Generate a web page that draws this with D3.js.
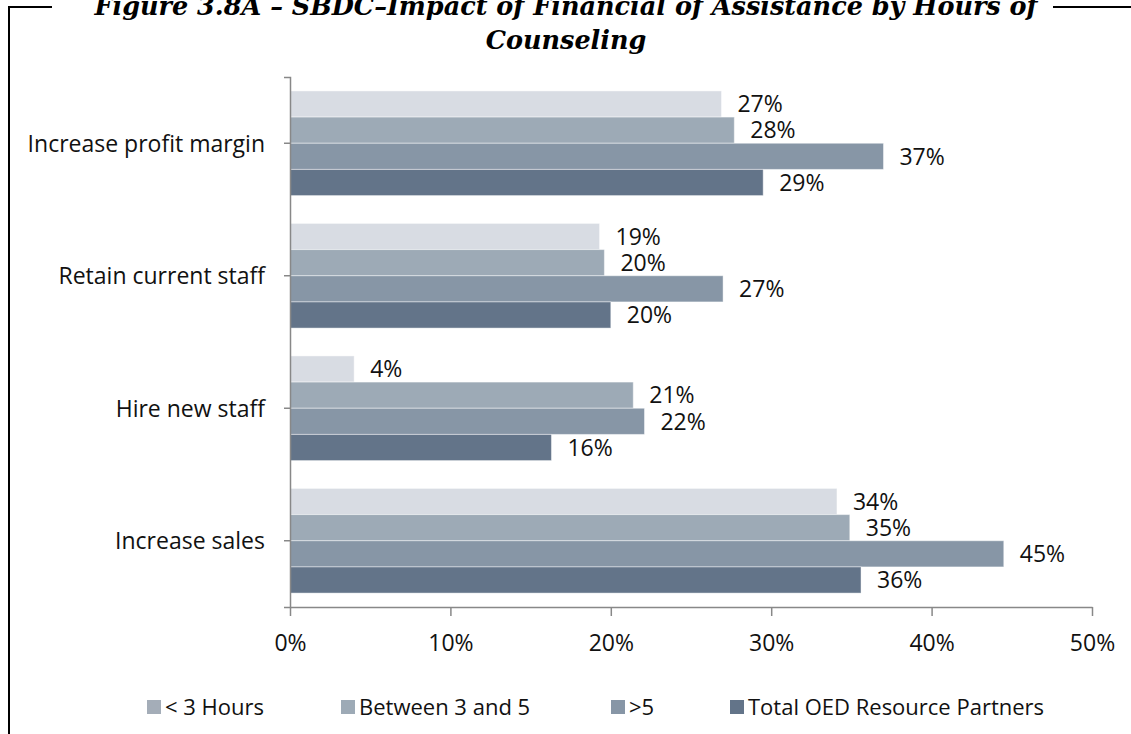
<!DOCTYPE html>
<html>
<head>
<meta charset="utf-8">
<script src="https://cdn.jsdelivr.net/npm/d3@7"></script>
<style>
  body { margin: 0; background: #ffffff; }
  svg { display: block; }
</style>
</head>
<body>
<div id="chart"></div>
<script>
// Data
var categories = ["Increase profit margin", "Retain current staff", "Hire new staff", "Increase sales"];
var seriesNames = ["< 3 Hours", "Between 3 and 5", ">5", "Total OED Resource Partners"];
var lessThan3 = [0.269, 0.193, 0.040, 0.341];
var between3and5 = [0.277, 0.196, 0.214, 0.349];
var moreThan5 = [0.370, 0.270, 0.221, 0.445];
var totalOED = [0.295, 0.200, 0.163, 0.356];
var valueLabels = [
  ["27%", "19%", "4%", "34%"],
  ["28%", "20%", "21%", "35%"],
  ["37%", "27%", "22%", "45%"],
  ["29%", "20%", "16%", "36%"]
];
var xTicks = [0, 0.1, 0.2, 0.3, 0.4, 0.5];
var titleLines = ["Figure 3.8A – SBDC–Impact of Financial of Assistance by Hours of", "Counseling"];

var seriesValues = [lessThan3, between3and5, moreThan5, totalOED];
var barColors = ["#d8dce3", "#9daab6", "#8796a6", "#637489"];
var legendColors = ["#a4adb8", "#9daab6", "#8796a6", "#637489"];

var width = 1131, height = 734;
var font = "'Open Sans', sans-serif";

var svg = d3.select("#chart").append("svg")
  .attr("width", width)
  .attr("height", height)
  .style("background", "#ffffff");

// Ramme (kun venstre side og toppen)
var frame = svg.append("g").attr("stroke", "#000").attr("stroke-width", 2).attr("fill", "none");
frame.append("line").attr("x1", 9).attr("y1", 7).attr("x2", 52).attr("y2", 7);
frame.append("line").attr("x1", 1053).attr("y1", 7).attr("x2", 1131).attr("y2", 7);
frame.append("line").attr("x1", 9).attr("y1", 6).attr("x2", 9).attr("y2", height);

// Titel (første linje er skåret af i toppen ligesom originalen)
svg.append("g").selectAll("text")
  .data(titleLines)
  .enter().append("text")
  .attr("x", 566)
  .attr("y", (d, i) => 15 + i * 34)
  .attr("text-anchor", "middle")
  .style("font-family", "'DejaVu Serif', serif")
  .style("font-weight", "bold")
  .style("font-style", "italic")
  .style("font-size", "25.5px")
  .style("fill", "#000")
  .text(d => d);

// Skalaer
var xScale = d3.scaleLinear().domain([0, 0.5]).range([290, 1092]);
var yScale = d3.scaleBand().domain(categories).range([77, 607]).paddingInner(0.21).paddingOuter(0.105);
var ySub = d3.scaleBand().domain(d3.range(seriesNames.length)).range([0, yScale.bandwidth()]);

// Barer
var series = svg.append("g").selectAll("g")
  .data(seriesValues)
  .enter().append("g")
  .attr("fill", (d, i) => barColors[i]);

series.selectAll("rect")
  .data((d, i) => d.map((v, j) => ({ v: v, s: i, c: categories[j], label: valueLabels[i][j] })))
  .enter().append("rect")
  .attr("x", xScale(0))
  .attr("y", d => yScale(d.c) + ySub(d.s))
  .attr("width", d => xScale(d.v) - xScale(0))
  .attr("height", ySub.bandwidth())
  .attr("stroke", "rgba(255,255,255,0.45)")
  .attr("stroke-width", 1);

// Data labels
series.selectAll("text")
  .data((d, i) => d.map((v, j) => ({ v: v, s: i, c: categories[j], label: valueLabels[i][j] })))
  .enter().append("text")
  .attr("x", d => xScale(d.v) + 16)
  .attr("y", d => yScale(d.c) + ySub(d.s) + ySub.bandwidth() / 2)
  .attr("dy", "0.36em")
  .style("font-family", font)
  .style("font-size", "23px")
  .style("fill", "#111")
  .text(d => d.label);

// X-akse
var xAxis = svg.append("g")
  .attr("transform", "translate(0,607)")
  .call(d3.axisBottom(xScale).tickValues(xTicks).tickFormat(d3.format(".0%")).tickSize(9).tickSizeOuter(0).tickPadding(19));

// Y-akse
var yAxis = svg.append("g")
  .attr("transform", "translate(290,0)")
  .call(d3.axisLeft(yScale).tickSize(6).tickSizeOuter(6).tickPadding(19));

[xAxis, yAxis].forEach(function (ax) {
  ax.select(".domain").attr("stroke", "#888").attr("stroke-width", 1.5);
  ax.selectAll(".tick line").attr("stroke", "#888").attr("stroke-width", 1.5);
  ax.selectAll(".tick text")
    .style("font-family", font)
    .style("font-size", "23px")
    .style("fill", "#111");
});
yAxis.selectAll(".tick text").attr("dy", "0.36em");

// Legend
var legendX = [147, 341, 611, 730];
var legend = svg.append("g").selectAll("g")
  .data(seriesNames)
  .enter().append("g")
  .attr("transform", (d, i) => "translate(" + legendX[i] + ",707)");

legend.append("rect")
  .attr("x", 0)
  .attr("y", -7)
  .attr("width", 14)
  .attr("height", 14)
  .attr("fill", (d, i) => legendColors[i]);

legend.append("text")
  .attr("x", 18)
  .attr("y", 0)
  .attr("dy", "0.36em")
  .style("font-family", font)
  .style("font-size", "22px")
  .style("fill", "#111")
  .text(d => d);
</script>
</body>
</html>
